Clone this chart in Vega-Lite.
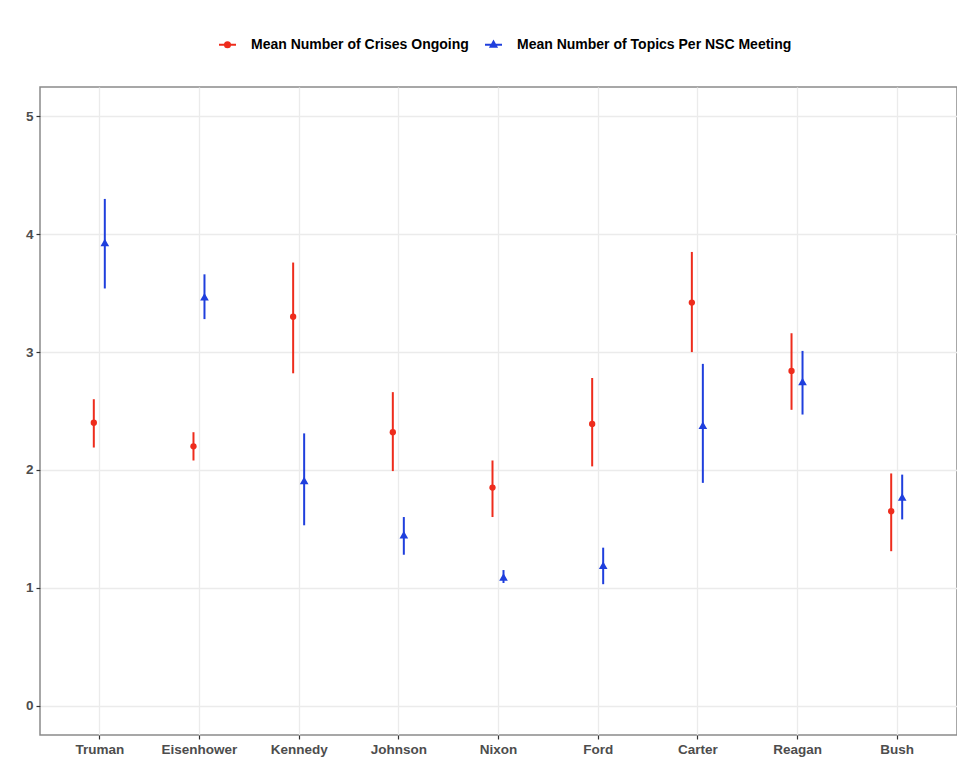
{
  "$schema": "https://vega.github.io/schema/vega-lite/v6.json",
  "autosize": {"type": "none"},
  "padding": {"left": 40, "top": 87, "right": 0, "bottom": 34},
  "width": 917,
  "height": 648,
  "background": "#ffffff",
  "config": {
    "view": {"stroke": "#8a8a8a", "strokeWidth": 1.5},
    "font": "Liberation Sans"
  },
  "data": {
    "values": [
      {"president": "Truman", "series": "Mean Number of Crises Ongoing", "mean": 2.40, "lo": 2.19, "hi": 2.60},
      {"president": "Truman", "series": "Mean Number of Topics Per NSC Meeting", "mean": 3.93, "lo": 3.54, "hi": 4.30},
      {"president": "Eisenhower", "series": "Mean Number of Crises Ongoing", "mean": 2.20, "lo": 2.08, "hi": 2.32},
      {"president": "Eisenhower", "series": "Mean Number of Topics Per NSC Meeting", "mean": 3.47, "lo": 3.28, "hi": 3.66},
      {"president": "Kennedy", "series": "Mean Number of Crises Ongoing", "mean": 3.30, "lo": 2.82, "hi": 3.76},
      {"president": "Kennedy", "series": "Mean Number of Topics Per NSC Meeting", "mean": 1.91, "lo": 1.53, "hi": 2.31},
      {"president": "Johnson", "series": "Mean Number of Crises Ongoing", "mean": 2.32, "lo": 1.99, "hi": 2.66},
      {"president": "Johnson", "series": "Mean Number of Topics Per NSC Meeting", "mean": 1.45, "lo": 1.28, "hi": 1.60},
      {"president": "Nixon", "series": "Mean Number of Crises Ongoing", "mean": 1.85, "lo": 1.60, "hi": 2.08},
      {"president": "Nixon", "series": "Mean Number of Topics Per NSC Meeting", "mean": 1.09, "lo": 1.04, "hi": 1.15},
      {"president": "Ford", "series": "Mean Number of Crises Ongoing", "mean": 2.39, "lo": 2.03, "hi": 2.78},
      {"president": "Ford", "series": "Mean Number of Topics Per NSC Meeting", "mean": 1.19, "lo": 1.03, "hi": 1.34},
      {"president": "Carter", "series": "Mean Number of Crises Ongoing", "mean": 3.42, "lo": 3.00, "hi": 3.85},
      {"president": "Carter", "series": "Mean Number of Topics Per NSC Meeting", "mean": 2.38, "lo": 1.89, "hi": 2.90},
      {"president": "Reagan", "series": "Mean Number of Crises Ongoing", "mean": 2.84, "lo": 2.51, "hi": 3.16},
      {"president": "Reagan", "series": "Mean Number of Topics Per NSC Meeting", "mean": 2.75, "lo": 2.47, "hi": 3.01},
      {"president": "Bush", "series": "Mean Number of Crises Ongoing", "mean": 1.65, "lo": 1.31, "hi": 1.97},
      {"president": "Bush", "series": "Mean Number of Topics Per NSC Meeting", "mean": 1.77, "lo": 1.58, "hi": 1.96}
    ]
  },
  "encoding": {
    "x": {
      "field": "president", "type": "nominal",
      "sort": ["Truman", "Eisenhower", "Kennedy", "Johnson", "Nixon", "Ford", "Carter", "Reagan", "Bush"],
      "scale": {"type": "band", "paddingInner": 0, "paddingOuter": 0.1},
      "axis": {
        "title": null, "labelAngle": 0, "bandPosition": 0.5,
        "domain": false, "grid": true, "gridColor": "#ebebeb", "gridWidth": 1.3,
        "ticks": true, "tickColor": "#333333", "tickSize": 4, "tickWidth": 1.2,
        "labelFont": "Liberation Sans", "labelFontWeight": "bold", "labelFontSize": 13.5,
        "labelColor": "#4d4d4d", "labelPadding": 3
      }
    },
    "color": {
      "field": "series", "type": "nominal",
      "scale": {"domain": ["Mean Number of Crises Ongoing", "Mean Number of Topics Per NSC Meeting"], "range": ["#ee2c1c", "#1f3fdd"]},
      "legend": {
        "orient": "none", "legendX": 178, "legendY": -52, "direction": "horizontal",
        "title": null, "labelFont": "Liberation Sans", "labelFontWeight": "bold", "labelFontSize": 14,
        "labelColor": "#000000", "labelOffset": 14, "columnPadding": 12, "labelLimit": 500,
        "symbolSize": 289, "symbolStrokeWidth": 2, "symbolOpacity": 1
      }
    }
  },
  "layer": [
    {
      "transform": [{"filter": "datum.series == 'Mean Number of Crises Ongoing'"}],
      "mark": {"type": "rule", "strokeWidth": 2, "xOffset": -6},
      "encoding": {
        "y": {
          "field": "lo", "type": "quantitative",
          "scale": {"domain": [-0.25, 5.25], "nice": false, "zero": false},
          "axis": {
            "title": null, "values": [0, 0.5, 1, 1.5, 2, 2.5, 3, 3.5, 4, 4.5, 5], "format": "d",
            "labelExpr": "datum.value % 1 === 0 ? datum.label : ''",
            "domain": false, "grid": true, "gridColor": "#ebebeb",
            "gridWidth": {"condition": {"test": "datum.value % 1 !== 0", "value": 0.9}, "value": 1.4},
            "tickColor": "#333333", "tickSize": 4, "tickWidth": 1.2,
            "tickOpacity": {"condition": {"test": "datum.value % 1 !== 0", "value": 0}, "value": 1},
            "labelFont": "Liberation Sans", "labelFontWeight": "bold", "labelFontSize": 13.5,
            "labelColor": "#4d4d4d", "labelPadding": 3
          }
        },
        "y2": {"field": "hi"}
      }
    },
    {
      "transform": [{"filter": "datum.series == 'Mean Number of Crises Ongoing'"}],
      "mark": {"type": "point", "filled": true, "opacity": 1, "xOffset": -6, "size": 40, "shape": "circle"},
      "encoding": {
        "y": {"field": "mean", "type": "quantitative"}
      }
    },
    {
      "transform": [{"filter": "datum.series == 'Mean Number of Topics Per NSC Meeting'"}],
      "mark": {"type": "rule", "strokeWidth": 2, "xOffset": 5},
      "encoding": {
        "y": {"field": "lo", "type": "quantitative"},
        "y2": {"field": "hi"}
      }
    },
    {
      "transform": [{"filter": "datum.series == 'Mean Number of Topics Per NSC Meeting'"}],
      "mark": {"type": "point", "filled": true, "opacity": 1, "xOffset": 5, "size": 75, "shape": "triangle-up"},
      "encoding": {
        "y": {"field": "mean", "type": "quantitative"}
      }
    },
    {
      "mark": {"type": "point", "filled": true, "opacity": 1, "size": 289, "strokeWidth": 2, "clip": true, "yOffset": 2000},
      "encoding": {
        "y": {"field": "mean", "type": "quantitative"},
        "shape": {
          "field": "series", "type": "nominal",
          "scale": {"domain": ["Mean Number of Crises Ongoing", "Mean Number of Topics Per NSC Meeting"],
            "range": ["M-1,0H1M-0.3,0A0.3,0.3,0,1,1,0.3,0A0.3,0.3,0,1,1,-0.3,0Z", "M-1,0H1M-0.34,0.24L0,-0.38L0.34,0.24Z"]}
        },
        "stroke": {
          "field": "series", "type": "nominal",
          "scale": {"domain": ["Mean Number of Crises Ongoing", "Mean Number of Topics Per NSC Meeting"], "range": ["#ee2c1c", "#1f3fdd"]}
        }
      }
    }
  ]
}
